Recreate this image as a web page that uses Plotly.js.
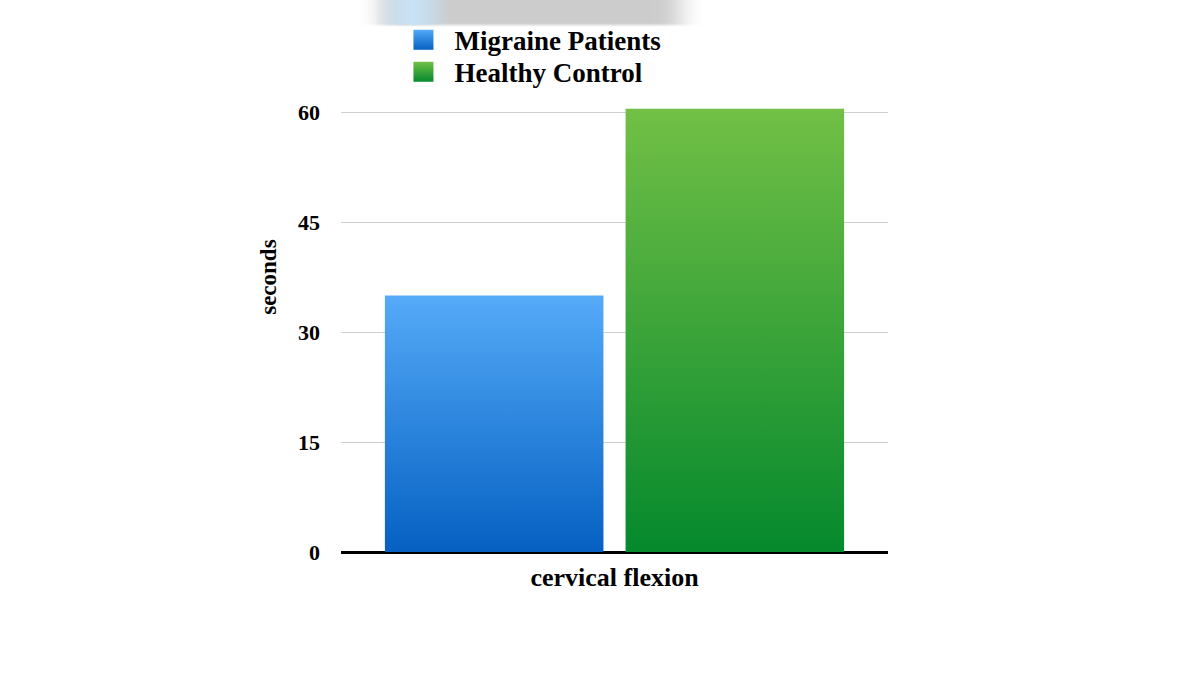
<!DOCTYPE html>
<html>
<head>
<meta charset="utf-8">
<script src="https://cdn.plot.ly/plotly-3.0.1.min.js"></script>
<style>
  html, body { margin: 0; padding: 0; background: #fff; }
  #chart { width: 1200px; height: 674px; }
</style>
</head>
<body>
<div id="chart"></div>
<script>
// values
const categories = ["cervical flexion"];
const seriesNames = ["Migraine Patients", "Healthy Control"];
const migraineValues = [35];
const controlValues = [60.5];
const tickValues = [0, 15, 30, 45, 60];
const tickLabels = ["0", "15", "30", "45", "60"];

// top / bottom colours of each bar's vertical gradient
const gradients = [
    { id: "gradBlue", top: "#55abf8", bottom: "#0560c2" },
    { id: "gradGreen", top: "#72c046", bottom: "#05892d" }
];

const serif = "'Liberation Serif', 'Times New Roman', serif";
const legendRowStep = 32;

let traces = [
    {
        type: "bar",
        name: seriesNames[0],
        x: categories,
        y: migraineValues,
        marker: { color: "#2f88e4", line: { width: 0 } },
        hoverinfo: "skip"
    },
    {
        type: "bar",
        name: seriesNames[1],
        x: categories,
        y: controlValues,
        marker: { color: "#3aa63a", line: { width: 0 } },
        hoverinfo: "skip"
    }
];

let layout = {
    width: 1200,
    height: 674,
    paper_bgcolor: "#ffffff",
    plot_bgcolor: "#ffffff",
    margin: { l: 341, r: 312, t: 105, b: 122 },
    barmode: "group",
    bargap: 0.12,
    bargroupgap: 0.092,
    showlegend: true,
    font: { family: serif, color: "#000000" },
    legend: {
        x: 0.116,
        xanchor: "left",
        y: 1.2,
        yanchor: "top",
        bgcolor: "rgba(0,0,0,0)",
        font: { family: serif, size: 27, color: "#000000", weight: "bold" },
        tracegroupgap: 0,
        itemwidth: 40,
        traceorder: "normal"
    },
    xaxis: {
        type: "category",
        showticklabels: false,
        showgrid: false,
        zeroline: false,
        showline: false,
        ticks: "",
        title: {
            text: "<b>cervical flexion</b>",
            font: { family: serif, size: 26, color: "#000000" },
            standoff: 15
        }
    },
    yaxis: {
        range: [0, 61],
        tickvals: tickValues,
        ticktext: tickLabels,
        tickfont: { family: serif, size: 22, color: "#000000", weight: "bold" },
        ticks: "",
        ticklabelstandoff: 20,
        showgrid: true,
        gridcolor: "#cfcfcf",
        gridwidth: 1,
        zeroline: true,
        zerolinecolor: "#000000",
        zerolinewidth: 3,
        showline: false
    },
    annotations: [
        {
            // y title sits above the middle of the axis in the original
            text: "<b>seconds</b>",
            textangle: -90,
            xref: "paper", yref: "paper",
            x: -0.134, y: 0.615,
            xanchor: "center", yanchor: "middle",
            showarrow: false,
            font: { family: serif, size: 23, color: "#000000" }
        }
    ],
    shapes: [
        {
            // blurred banner at the top of the original
            type: "rect",
            xref: "paper", yref: "paper",
            x0: 0.075, x1: 0.62, y0: 1.179, y1: 1.26,
            fillcolor: "rgb(204,204,204)",
            line: { width: 0 },
            layer: "below"
        },
        {
            type: "rect",
            xref: "paper", yref: "paper",
            x0: 0.09, x1: 0.17, y0: 1.179, y1: 1.26,
            fillcolor: "rgb(200,226,245)",
            line: { width: 0 },
            layer: "below"
        }
    ]
};

Plotly.newPlot("chart", traces, layout, { displayModeBar: false, staticPlot: true }).then(gd => {
    // plotly has no gradient bar fill, so add svg gradients and point the bars at them
    let svgNS = "http://www.w3.org/2000/svg";
    let svg = gd.querySelector("svg.main-svg");
    let defs = svg.querySelector("defs") || svg.insertBefore(document.createElementNS(svgNS, "defs"), svg.firstChild);
    gradients.forEach(g => {
        let lg = document.createElementNS(svgNS, "linearGradient");
        lg.setAttribute("id", g.id);
        lg.setAttribute("x1", "0"); lg.setAttribute("y1", "0");
        lg.setAttribute("x2", "0"); lg.setAttribute("y2", "1");
        [["0", g.top], ["1", g.bottom]].forEach(([off, col]) => {
            let st = document.createElementNS(svgNS, "stop");
            st.setAttribute("offset", off);
            st.setAttribute("stop-color", col);
            lg.appendChild(st);
        });
        defs.appendChild(lg);
    });
    let blur = document.createElementNS(svgNS, "filter");
    blur.setAttribute("id", "softBlur");
    blur.setAttribute("x", "-30%"); blur.setAttribute("y", "-50%");
    blur.setAttribute("width", "160%"); blur.setAttribute("height", "200%");
    let fe = document.createElementNS(svgNS, "feGaussianBlur");
    fe.setAttribute("stdDeviation", "12 0.8");
    blur.appendChild(fe);
    defs.appendChild(blur);

    gd.querySelectorAll(".barlayer .trace").forEach((t, i) => {
        t.querySelectorAll("path").forEach(p => { p.style.fill = "url(#" + gradients[i].id + ")"; });
    });

    // legend: bigger gradient squares, tighter rows like the original
    let firstY = null;
    gd.querySelectorAll(".legend .traces").forEach((t, i) => {
        t.querySelectorAll(".legendpoints path").forEach(p => {
            p.style.fill = "url(#" + gradients[i].id + ")";
            p.setAttribute("d", "M4,10H-16V-10H4Z");
        });
        let m = /translate\(\s*([-\d.]+)[ ,]+([-\d.]+)\)/.exec(t.getAttribute("transform") || "");
        if (m) {
            let tx = parseFloat(m[1]), ty = parseFloat(m[2]);
            if (firstY === null) firstY = ty;
            t.setAttribute("transform", "translate(" + tx + "," + (firstY + i * legendRowStep) + ")");
        }
    });
    gd.querySelectorAll(".shapelayer path").forEach(p => { p.style.filter = "url(#softBlur)"; });
});
</script>
</body>
</html>
